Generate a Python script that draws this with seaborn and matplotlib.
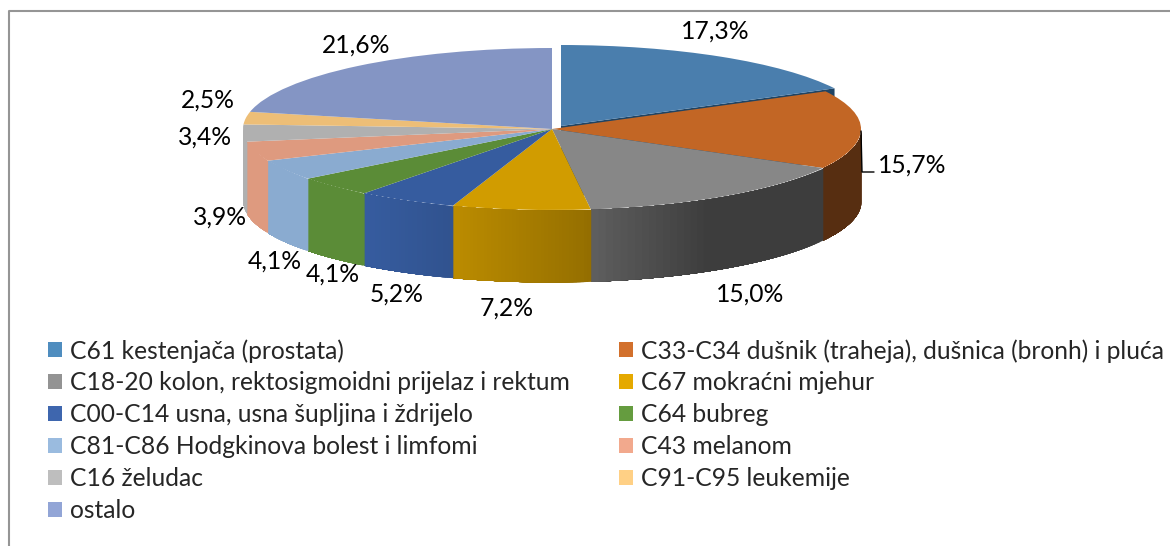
import numpy as np
import matplotlib
matplotlib.use("Agg")
import matplotlib.pyplot as plt
import seaborn as sns
from matplotlib.lines import Line2D
from matplotlib.patches import Patch

# -------------------------
# Data
# -------------------------
categories = [
    "C61 kestenjača (prostata)",
    "C33-C34 dušnik (traheja), dušnica (bronh) i pluća",
    "C18-20 kolon, rektosigmoidni prijelaz i rektum",
    "C67 mokraćni mjehur",
    "C00-C14 usna, usna šupljina i ždrijelo",
    "C64 bubreg",
    "C81-C86 Hodgkinova bolest i limfomi",
    "C43 melanom",
    "C16 želudac",
    "C91-C95 leukemije",
    "ostalo",
]
values = [17.3, 15.7, 15.0, 7.2, 5.2, 4.1, 4.1, 3.9, 3.4, 2.5, 21.6]
value_labels = ["17,3%", "15,7%", "15,0%", "7,2%", "5,2%", "4,1%", "4,1%", "3,9%", "3,4%", "2,5%", "21,6%"]

top_colors = ["#4A7EAD", "#C26625", "#878787", "#D19C00", "#365C9F", "#5B8C37",
              "#8AABD0", "#DE9A7F", "#B0B0B0", "#EDBE77", "#8495C4"]
legend_colors = ["#4F8DBF", "#D2702C", "#939393", "#E5A900", "#3E66AE", "#659C3F",
                 "#9ABBDF", "#F2A98D", "#BEBEBE", "#FFD085", "#92A5D6"]

# label centres in pixels of the 1170x546 picture
label_pos = [(715, 31), (912, 165), (750, 294), (507, 308), (397, 294), (333, 274),
             (275, 261), (220, 217), (205, 137), (208, 100), (356, 45)]

# -------------------------
# Layout
# -------------------------
W, H = 1170, 546
cx, cy = 552, 129      # pie centre
rx, ry = 309, 81       # ellipse half axes
depth = 72 / ry        # wall height in data units


def fx(x):
    return x / W


def fy(y):
    return 1 - y / H


def shade(color, x):
    # walls darken towards the right hand side
    f = np.interp(x, [-1, -0.6, -0.33, 0.1, 0.5, 1], [1, 1, 0.9, 0.72, 0.45, 0.45])
    return tuple(c * f for c in matplotlib.colors.to_rgb(color))


sns.set_theme(style="white")
plt.rcParams["font.family"] = ["Lato", "DejaVu Sans"]

fig = plt.figure(figsize=(W / 100, H / 100), dpi=100)
ax = fig.add_axes([0, 0, 1, 1])

wedges, _ = ax.pie(values, colors=sns.color_palette(top_colors), startangle=90,
                   counterclock=False, wedgeprops={"linewidth": 0, "zorder": 5})
ax.set_aspect("auto")
ax.set_xlim(-cx / rx, (W - cx) / rx)
ax.set_ylim((cy - H) / ry, cy / ry)
ax.axis("off")

# first slice is pulled out a little
blue_shift = (9 / rx, 3 / ry)
wedges[0].set_center(blue_shift)
wedges[0].set_zorder(6)

# cut face of the pulled out slice
edge = np.radians(values[0] * 3.6)
ex, ey = np.sin(edge) + blue_shift[0], np.cos(edge) + blue_shift[1]
ax.fill([blue_shift[0], ex, ex, blue_shift[0]],
        [blue_shift[1], ey, ey - depth, blue_shift[1] - depth],
        color="#1F4464", lw=0, zorder=1)

# front walls, overlapping strips per slice so the shading runs along x
bounds = np.cumsum([0] + values) * 3.6
for i in range(1, len(values)):
    a0, a1 = max(bounds[i], 90), min(bounds[i + 1], 270)
    if a1 <= a0:
        continue
    th = np.radians(np.linspace(a0, a1, 40))
    xs, ys = np.sin(th), np.cos(th)
    for j in range(len(th) - 1):
        c = shade(top_colors[i], (xs[j] + xs[j + 1]) / 2)
        ax.fill_between(xs[j:], ys[j:], ys[j:] - depth, color=c, lw=0, zorder=2)

# data labels
for txt, (px, py) in zip(value_labels, label_pos):
    fig.text(fx(px), fy(py), txt, ha="center", va="center", fontsize=17.7, color="black")

# leader line of the second slice
fig.add_artist(Line2D([fx(861), fx(862), fx(874)], [fy(131), fy(172), fy(172)],
                      color="black", lw=1))

# legend, filled by columns so the rows read like the original
handles = [Patch(facecolor=c, edgecolor="none", label=l) for c, l in zip(legend_colors, categories)]
order = [0, 2, 4, 6, 8, 10, 1, 3, 5, 7, 9]
fig.legend([handles[i] for i in order], [categories[i] for i in order],
           loc="upper left", bbox_to_anchor=(fx(48), fy(339)), ncol=2, frameon=False,
           borderpad=0, borderaxespad=0, fontsize=17.7, handlelength=0.57, handleheight=0.57,
           handletextpad=0.33, labelspacing=0.36, columnspacing=2.0)

# chart frame, only top and left edges show in the picture
fig.add_artist(Line2D([fx(8.5), fx(8.5), fx(W)], [fy(H), fy(10.5), fy(10.5)],
                      color="#959595", lw=1.5))

fig.savefig("out.png", dpi=100)
